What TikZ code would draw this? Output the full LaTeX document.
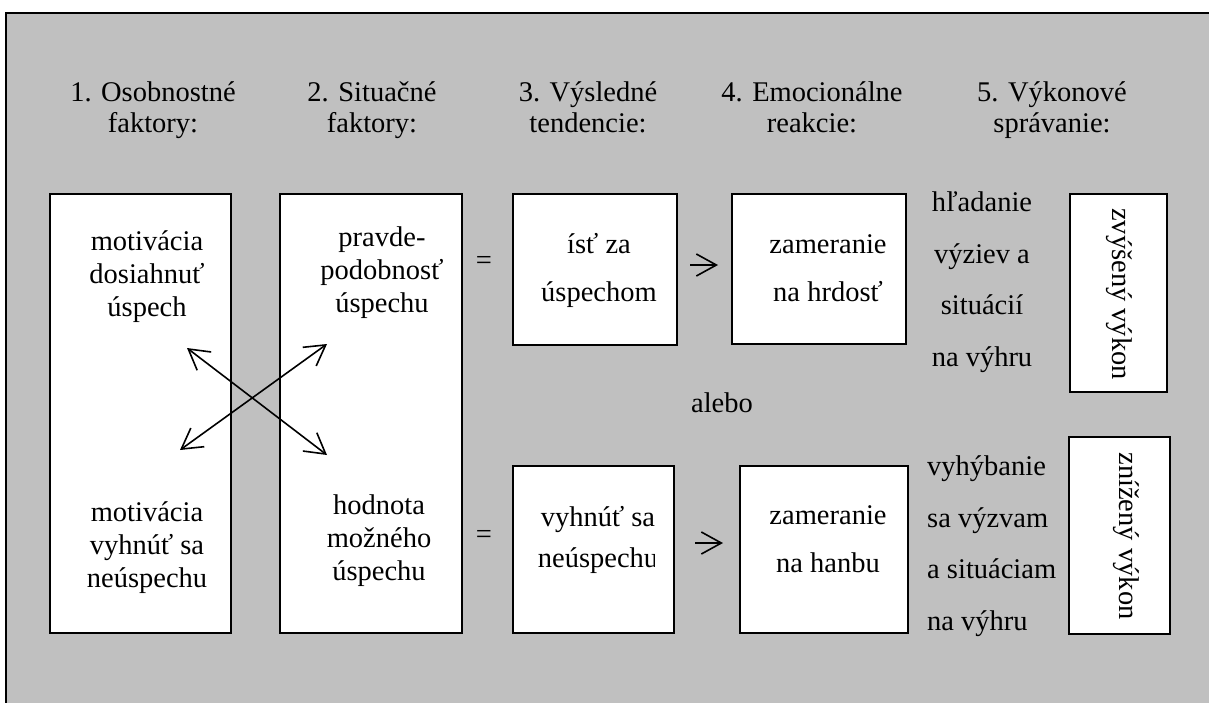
\documentclass[tikz,border=0pt]{standalone}
\usepackage{fontspec}
\setmainfont{Liberation Serif}
\usetikzlibrary{arrows.meta}
\definecolor{bggray}{RGB}{192,192,192}
\begin{document}
\begin{tikzpicture}[x=1pt,y=-1pt,
  box/.style={draw=black,line width=2pt,fill=white,inner sep=0pt},
  txt/.style={inner sep=0pt,align=center,font=\fontsize{28.5}{33}\selectfont},
  txtw/.style={inner sep=0pt,align=center,font=\fontsize{28.5}{48}\selectfont},
  lst/.style={inner sep=0pt,font=\fontsize{28.5}{51.5}\selectfont},
  title/.style={inner sep=0pt,align=center,anchor=base,font=\fontsize{28.5}{31}\selectfont},
  dblarrow/.style={line width=1.6pt,{Straight Barb[length=20pt,width=23pt]}-{Straight Barb[length=20pt,width=23pt]}},
  sarrow/.style={line width=1.6pt,-{Straight Barb[length=20pt,width=22pt]}}]
\clip (0,0) rectangle (1209,702);
\fill[white] (0,0) rectangle (1209,702);
\draw[line width=2pt,fill=bggray] (6,13) rectangle (1240,740);

% titles (base anchor = baseline of the last line)
\node[title] (t1) at (153,132) {1. Osobnostné\\faktory:};
\node[title] (t2) at (372,132) {2. Situačné\\faktory:};
\node[title] (t3) at (588,132) {3. Výsledné\\tendencie:};
\node[title] (t4) at (812,132) {4. Emocionálne\\reakcie:};
\node[title] (t5) at (1052,132) {5. Výkonové\\správanie:};

% boxes
\node[box,minimum width=181pt,minimum height=439pt] (A) at (140.5,413.5) {};
\node[box,minimum width=182pt,minimum height=439pt] (B) at (371,413.5) {};
\node[box,minimum width=164pt,minimum height=151pt] (Cu) at (595,269.5) {};
\node[box,minimum width=174pt,minimum height=150pt] (Du) at (819,269) {};
\node[box,minimum width=97pt,minimum height=198pt] (Eu) at (1118.5,293) {};
\node[box,minimum width=161pt,minimum height=167pt] (Cl) at (593.5,549.5) {};
\node[box,minimum width=168pt,minimum height=167pt] (Dl) at (824,549.5) {};
\node[box,minimum width=101pt,minimum height=197pt] (El) at (1119.5,535.5) {};

% texts in left boxes
\node[txt] (a1) at (147,277) {motivácia\\dosiahnuť\\úspech};
\node[txt] (a2) at (147,548) {motivácia\\vyhnúť sa\\neúspechu};
\node[txt] (b1) at (382,273) {pravde-\\podobnosť\\úspechu};
\node[txt] (b2) at (379,541) {hodnota\\možného\\úspechu};

% crossing arrows
\coordinate (x1a) at (187,348);
\coordinate (x1b) at (327,455);
\coordinate (x2a) at (180,450);
\coordinate (x2b) at (327,344);
\draw[dblarrow] (x1a) -- (x1b);
\draw[dblarrow] (x2a) -- (x2b);

% equals signs
\node[txt] (eq1) at (484,263) {=};
\node[txt] (eq2) at (484,537) {=};

% upper row
\node[txtw] (c1) at (599,270) {ísť za\\úspechom};
\node[txtw] (d1) at (828,268) {zameranie\\na hrdosť};
\coordinate (r1a) at (690,265);
\coordinate (r1b) at (718,265);
\draw[sarrow] (r1a) -- (r1b);

% alebo
\node[txt] (or) at (722,403) {alebo};

% lower row
\begin{scope}
\clip (513,466) rectangle (654,633);
\node[inner sep=0pt,align=center,font=\fontsize{28.5}{41}\selectfont] (c2) at (598,540) {vyhnúť sa\\neúspechu};
\end{scope}
\node[txtw] (d2) at (828,539) {zameranie\\na hanbu};
\coordinate (r2a) at (695,543);
\coordinate (r2b) at (723,543);
\draw[sarrow] (r2a) -- (r2b);

% right lists
\node[lst,align=center] (l1) at (982,282) {hľadanie\\výziev a\\situácií\\na výhru};
\node[lst,align=left,anchor=west] (l2) at (927,546) {vyhýbanie\\sa výzvam\\a situáciam\\na výhru};

% rotated texts
\node[inner sep=0pt,rotate=-90,font=\fontsize{28.5}{33}\selectfont] (e1) at (1119,294) {zvýšený výkon};
\node[inner sep=0pt,rotate=-90,font=\fontsize{28.5}{33}\selectfont] (e2) at (1126,536) {znížený výkon};
\end{tikzpicture}
\end{document}
